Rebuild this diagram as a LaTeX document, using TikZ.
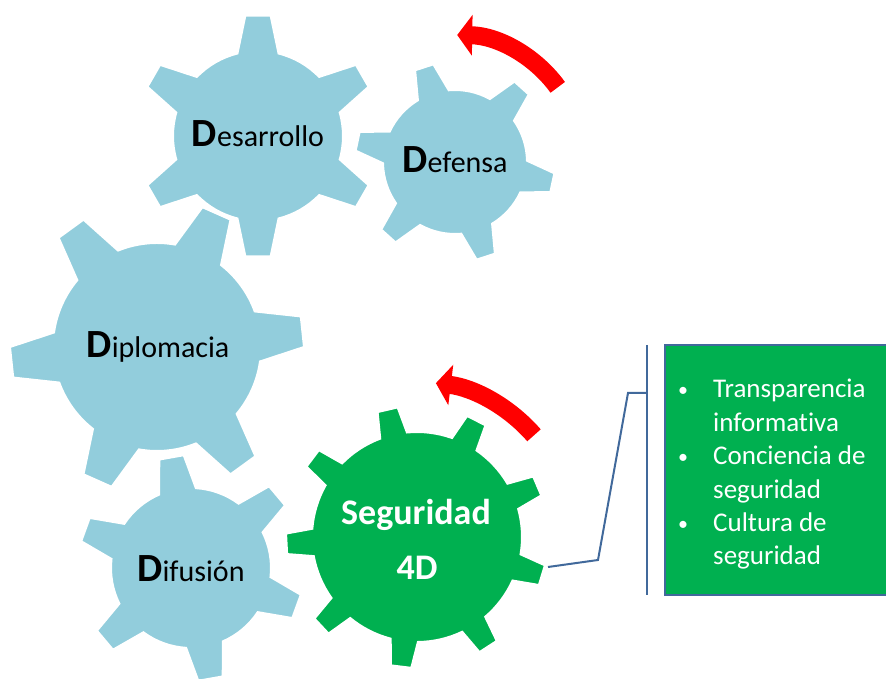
\documentclass[tikz,border=0pt]{standalone}
\usepackage{fontspec}
\setmainfont{Carlito}[Ligatures=NoCommon]
\usetikzlibrary{arrows.meta,calc}

\definecolor{gearblue}{RGB}{146,205,220}
\definecolor{geargreen}{RGB}{0,176,80}
\definecolor{linkblue}{RGB}{65,105,155}

\tikzset{
  bluegear/.style={fill=gearblue, draw=white, line width=2pt},
  greengear/.style={fill=geargreen, draw=white, line width=2pt},
  gearlabel/.style={font=\fontsize{30}{30}\selectfont, inner sep=0pt, anchor=base},
  seglabel/.style={font=\fontsize{36}{36}\selectfont\bfseries, text=white, inner sep=0pt, anchor=base},
  turn/.style={draw=red, line width=18pt, -{Triangle[length=15pt,width=40pt]}},
  link/.style={draw=linkblue, line width=2pt},
  listtext/.style={font=\fontsize{27}{33.4}\selectfont, text=white, inner sep=0pt, anchor=base west}
}

\newcommand{\bigD}{{\fontsize{40}{40}\selectfont\bfseries D}}
\newcommand{\dotitem}{\makebox[37pt][l]{\hspace{2pt}\raisebox{1pt}{\fontsize{20}{20}\selectfont\textbullet}}}

% gear: x, y, teeth, first tooth angle, body radius, tip radius, half base angle, half tip angle, style
\newcommand{\gear}[9]{%
  \begin{scope}[shift={(#1,#2)}]
    \filldraw[#9] ({#4-#7}:#5)
    \foreach \k in {1,...,#3} {
      -- ({#4+(\k-1)*360/#3-#8}:#6) -- ({#4+(\k-1)*360/#3+#8}:#6)
      -- ({#4+(\k-1)*360/#3+#7}:#5)
      arc[start angle={#4+(\k-1)*360/#3+#7}, end angle={#4+\k*360/#3-#7}, radius=#5]
    } -- cycle;
  \end{scope}}

\begin{document}
\begin{tikzpicture}[x=1pt,y=1pt]
\useasboundingbox (0,0) rectangle (886,679);

% gears
\gear{157}{332}{6}{6}{104}{147}{14}{6}{bluegear}
\gear{258}{543}{6}{30}{85}{121}{14}{6}{bluegear}
\gear{455}{517}{6}{-12}{72}{100}{13}{5.5}{bluegear}
\gear{191}{111}{6}{40}{80}{113}{13.5}{6.3}{bluegear}
\gear{417}{142}{9}{23}{105}{131}{7.5}{4.5}{greengear}

\coordinate (defc) at (455,517);
\coordinate (segc) at (417,142);

% labels
\node[gearlabel] (des) at (258,532) {\bigD esarrollo};
\node[gearlabel] (def) at (455,506) {\bigD efensa};
\node[gearlabel] (dip) at (158,321) {\bigD iplomacia};
\node[gearlabel] (dif) at (191,97) {\bigD ifusión};
\node[seglabel] (seg) at (416,154) {Seguridad};
\node[seglabel] (seg4d) at (417,99) {4D};

% rotation arrows
\draw[turn] ($(defc)+(36:127)$) arc[start angle=36, end angle=89, radius=127];
\draw[turn] ($(segc)+(41:155)$) arc[start angle=41, end angle=83, radius=155];

% bracket and connector
\coordinate (segtip) at (548,112);
\coordinate (bend1) at (598,119);
\coordinate (bend2) at (628,286);
\coordinate (brmid) at (647,286);
\coordinate (brtop) at (647,334);
\coordinate (brbot) at (647,84);
\draw[link] (brtop) -- (brbot);
\draw[link] (segtip) -- (bend1) -- (bend2) -- (brmid);

% list box
\filldraw[fill=geargreen, draw=linkblue, line width=1.5pt] (665,84) rectangle (888,334);
\node[listtext] (list) at (676,281) {\begin{tabular}[t]{@{}l@{}l@{}}
\dotitem & Transparencia\\
 & informativa\\
\dotitem & Conciencia de\\
 & seguridad\\
\dotitem & Cultura de\\
 & seguridad
\end{tabular}};

\end{tikzpicture}
\end{document}
